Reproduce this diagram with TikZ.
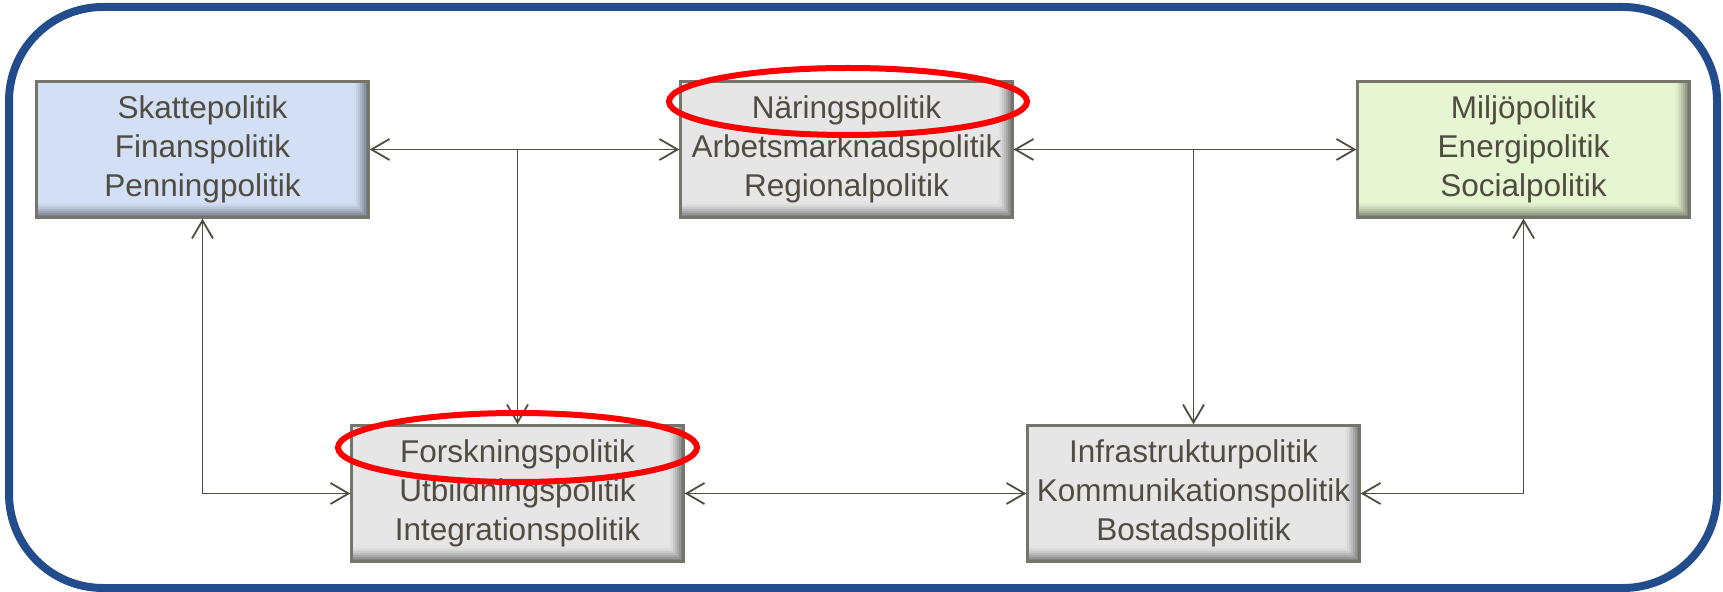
\documentclass[tikz,border=0pt]{standalone}
\usepackage{fontspec}
\setmainfont{Liberation Sans}
\usetikzlibrary{arrows.meta,shapes.geometric}

\definecolor{frameblue}{RGB}{35,76,140}
\definecolor{boxline}{RGB}{118,117,107}
\definecolor{ink}{RGB}{80,76,65}
\definecolor{fillgray}{RGB}{230,230,230}
\definecolor{fillblue}{RGB}{210,223,245}
\definecolor{fillgreen}{RGB}{230,245,210}
\definecolor{ringred}{RGB}{255,0,0}

\tikzset{
	polbox/.style={draw=boxline, line width=1.2pt, fill=#1,
		minimum width=166pt, minimum height=68pt, inner sep=1pt,
		align=center, text=ink, font=\fontsize{15.75}{19.5}\selectfont,
		path picture={
			\foreach \k/\m in {6/98,5/94,4/88,3/81,2/73,1/65,0/57} {
				\draw[#1!\m!black, line width=1.05pt]
					([yshift=\k pt+0.5pt]path picture bounding box.south west)
					-- ([shift={(-\k pt-0.5pt,\k pt+0.5pt)}]path picture bounding box.south east)
					-- ([xshift=-\k pt-0.5pt]path picture bounding box.north east);
			}
		}},
	link/.style={draw=ink, line width=0.9pt},
	ring/.style={ellipse, draw=ringred, line width=3pt, inner sep=0pt}
}

\begin{document}
\begin{tikzpicture}[x=0.5pt, y=0.5pt, >={Straight Barb[length=9pt,width=10.5pt]}]

\useasboundingbox (0,0) rectangle (1723,-592);

% outer frame
\draw[frameblue, line width=4pt, rounded corners=47pt] (9,-7) rectangle (1717,-588);

% policy boxes
\node[polbox=fillblue]  (skatt)  at (202.5,-149.5)  {Skattepolitik\\Finanspolitik\\Penningpolitik};
\node[polbox=fillgray]  (naring) at (846.5,-149.5)  {Näringspolitik\\Arbetsmarknadspolitik\\Regionalpolitik};
\node[polbox=fillgreen] (miljo)  at (1523.5,-149.5) {Miljöpolitik\\Energipolitik\\Socialpolitik};
\node[polbox=fillgray]  (forsk)  at (517.5,-493.5)  {Forskningspolitik\\Utbildningspolitik\\Integrationspolitik};
\node[polbox=fillgray]  (infra)  at (1193.5,-493.5) {Infrastrukturpolitik\\Kommunikationspolitik\\Bostadspolitik};

% branch points on the upper lines
\coordinate (j1) at (forsk.north |- skatt.east);
\coordinate (j2) at (infra.north |- naring.east);

% connectors
\draw[link, <->] (skatt) -- (naring);
\draw[link, <->] (naring) -- (miljo);
\draw[link, ->] (j1) -- (forsk.north);
\draw[link, ->] (j2) -- (infra.north);
\draw[link, <->] (skatt.south) |- (forsk.west);
\draw[link, <->] (forsk) -- (infra);
\draw[link, <->] (infra.east) -| (miljo.south);

% highlights
\node[ring, minimum width=179pt, minimum height=33.5pt] (ring1) at (848,-101.5) {};
\node[ring, minimum width=179.5pt, minimum height=34.5pt] (ring2) at (517.5,-447.5) {};

\end{tikzpicture}
\end{document}
